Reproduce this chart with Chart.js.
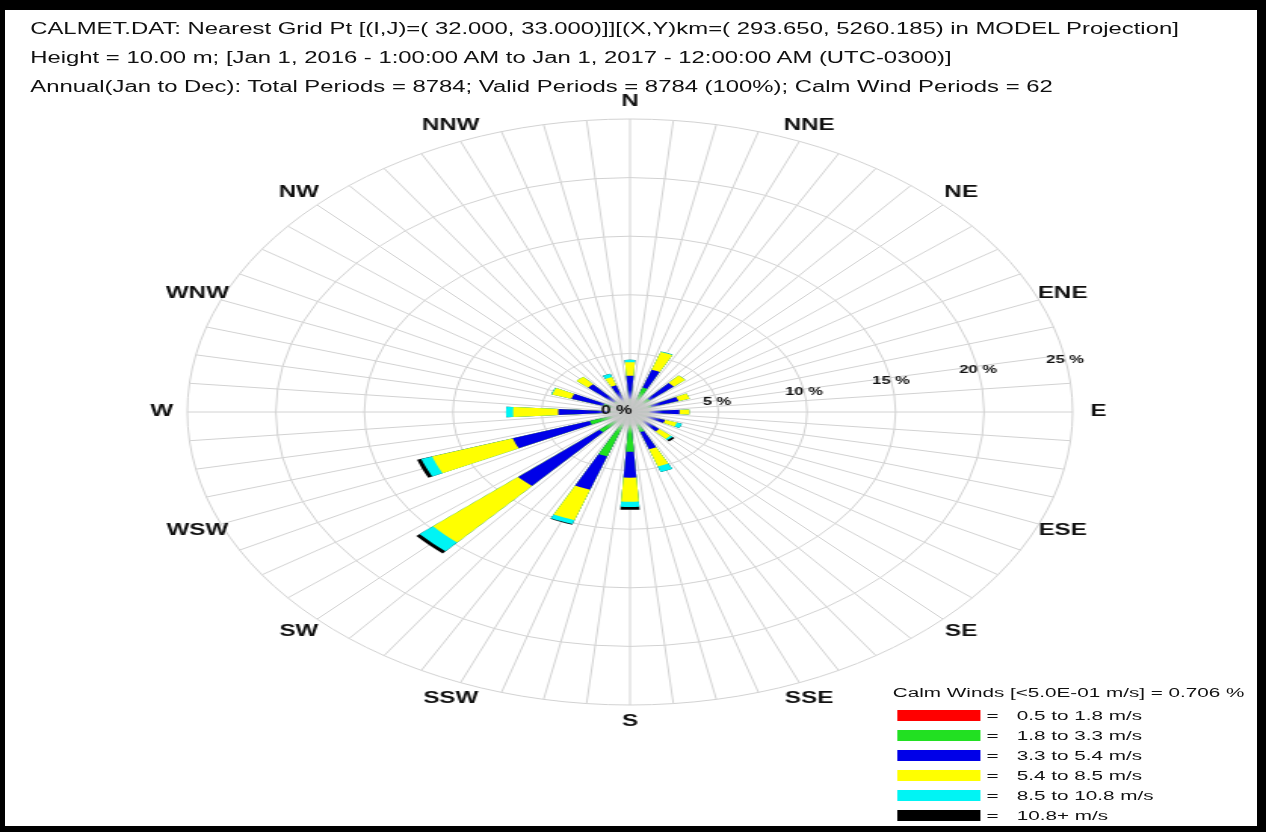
<!DOCTYPE html>
<html>
<head>
<meta charset="utf-8">
<script src="https://cdn.jsdelivr.net/npm/chart.js@4"></script>
<style>
  html, body { margin: 0; padding: 0; background: #fff; }
  body { width: 1266px; height: 832px; overflow: hidden; position: relative; font-family: "Liberation Sans", Arial, sans-serif; color: #111; }
  #frame { position: absolute; left: 0; top: 0; width: 1266px; height: 832px; box-sizing: border-box;
           border-style: solid; border-color: #000; border-width: 10px 9px 6px 5px; z-index: 5; pointer-events: none; }
  /* the reference picture is stretched sideways, so the whole sheet is too */
  #sheet { position: absolute; left: 0; top: 0; width: 838px; height: 832px; transform: scaleX(1.5107); transform-origin: 0 0; }
  #rose { position: absolute; left: 0; top: 0; }
  .title { position: absolute; left: 20px; font-size: 15.8px; line-height: 20px; white-space: nowrap; }
  #calm { position: absolute; left: 591px; top: 685px; font-size: 13.7px; line-height: 16px; white-space: nowrap; }
  .row { position: absolute; left: 594px; height: 20px; font-size: 13.7px; line-height: 16px; white-space: nowrap; }
  .row .box { position: absolute; left: 0; top: 2px; width: 55px; height: 11px; }
  .row .eq { position: absolute; left: 59px; top: 0; }
  .row .txt { position: absolute; left: 79px; top: 0; }
</style>
</head>
<body>
<div id="sheet">
  <canvas id="rose" width="838" height="832"></canvas>
  <div class="title" style="top:19px">CALMET.DAT: Nearest Grid Pt [(I,J)=( 32.000, 33.000)]][(X,Y)km=( 293.650, 5260.185) in MODEL Projection]</div>
  <div class="title" style="top:48px">Height = 10.00 m; [Jan 1, 2016 - 1:00:00 AM to Jan 1, 2017 - 12:00:00 AM (UTC-0300)]</div>
  <div class="title" style="top:77px">Annual(Jan to Dec): Total Periods = 8784; Valid Periods = 8784 (100%); Calm Wind Periods = 62</div>
  <div id="calm">Calm Winds [&lt;5.0E-01 m/s] = 0.706 %</div>
  <div id="legend"></div>
</div>
<div id="frame"></div>

<script>
const directions = ["N", "NNE", "NE", "ENE", "E", "ESE", "SE", "SSE",
                    "S", "SSW", "SW", "WSW", "W", "WNW", "NW", "NNW"];

// frequency (%) of each speed class per direction, N clockwise
const red    = [0.1, 0.1, 0.1, 0.1, 0.1, 0.1, 0.1, 0.1, 0.1, 0.1, 0.1, 0.1, 0.1, 0.1, 0.1, 0.1];
const green  = [1.0, 2.1, 1.4, 1.2, 1.0, 0.9, 0.9, 1.7, 3.3, 3.9, 2.2, 2.3, 1.2, 1.5, 1.1, 0.8];
const blue   = [2.0, 1.6, 1.8, 1.6, 1.7, 1.1, 1.2, 1.55, 2.2, 3.0, 6.1, 4.6, 2.75, 1.9, 1.95, 1.5];
const yellow = [1.15, 1.6, 0.85, 0.65, 0.55, 0.7, 0.85, 1.55, 2.05, 2.75, 6.4, 4.8, 2.55, 1.15, 0.85, 0.75];
const cyan   = [0.2, 0.05, 0, 0, 0, 0.3, 0.15, 0.5, 0.45, 0.35, 1.0, 0.65, 0.4, 0.05, 0, 0.3];
const black  = [0, 0, 0, 0, 0, 0, 0.15, 0, 0.25, 0.05, 0.25, 0.25, 0, 0, 0, 0];

const classLabels = ["0.5 to 1.8 m/s", "1.8 to 3.3 m/s", "3.3 to 5.4 m/s",
                     "5.4 to 8.5 m/s", "8.5 to 10.8 m/s", "10.8+ m/s"];
const classColors = ["#ff0000", "#22e022", "#0000e8", "#ffff00", "#00f4f4", "#000000"];
const tickValues = [5, 10, 15, 20, 25];

const gridColor = "#d2d2d2";
const slotsPerDir = 3;   // each bar takes the middle slot of three
const spokeCount = 64;

// legend rows
const legendEl = document.getElementById("legend");
classLabels.forEach((lab, i) => {
  const row = document.createElement("div");
  row.className = "row";
  row.style.top = (708 + i * 20) + "px";
  row.innerHTML = '<span class="box" style="background:' + classColors[i] + '"></span>' +
                  '<span class="eq">=</span><span class="txt">' + lab + '</span>';
  legendEl.appendChild(row);
});

// polar area slots and cumulative (stacked) values
const slotLabels = [];
directions.forEach((d) => { slotLabels.push("", d, ""); });

const classes = [red, green, blue, yellow, cyan, black];
const datasets = classes.map((cls, k) => {
  const data = [];
  directions.forEach((d, i) => {
    let cum = 0;
    for (let j = 0; j <= k; j++) cum += classes[j][i];
    data.push(0, cum, 0);
  });
  return {
    label: classLabels[k],
    data: data,
    backgroundColor: classColors[k],
    borderWidth: 0,
  };
});

const roseDecor = {
  id: "roseDecor",
  beforeDatasetsDraw(chart) {
    const r = chart.scales.r;
    const ctx = chart.ctx;
    const R = r.drawingArea;
    ctx.save();
    ctx.strokeStyle = gridColor;
    ctx.lineWidth = 1;
    for (let k = 0; k < spokeCount; k++) {
      const a = (k * 2 * Math.PI) / spokeCount;
      ctx.beginPath();
      ctx.moveTo(r.xCenter, r.yCenter);
      ctx.lineTo(r.xCenter + R * Math.sin(a), r.yCenter - R * Math.cos(a));
      ctx.stroke();
    }
    ctx.restore();
  },
  afterDatasetsDraw(chart) {
    const r = chart.scales.r;
    const ctx = chart.ctx;
    const cx = r.xCenter, cy = r.yCenter;
    ctx.save();

    // grey hub where the spokes meet
    const g = ctx.createRadialGradient(cx, cy, 0, cx, cy, 22);
    g.addColorStop(0, "rgba(196,196,196,1)");
    g.addColorStop(0.55, "rgba(200,200,200,0.95)");
    g.addColorStop(1, "rgba(210,210,210,0)");
    ctx.fillStyle = g;
    ctx.beginPath();
    ctx.arc(cx, cy, 22, 0, 2 * Math.PI);
    ctx.fill();

    ctx.fillStyle = "#111";
    ctx.textAlign = "center";
    ctx.textBaseline = "middle";
    ctx.font = "bold 12px 'Liberation Sans'";
    ctx.fillText("0 %", cx - 9, cy - 1);

    // ring labels along a line just above E
    const ta = (79.5 * Math.PI) / 180;
    ctx.font = "bold 11px 'Liberation Sans'";
    tickValues.forEach((v) => {
      const d = r.getDistanceFromCenterForValue(v);
      ctx.fillText(v + " %", cx + d * Math.sin(ta), cy - d * Math.cos(ta) + 1);
    });

    // compass labels
    ctx.font = "bold 16px 'Liberation Sans'";
    const dl = r.getDistanceFromCenterForValue(26.45);
    directions.forEach((d, i) => {
      const a = (i * 22.5 * Math.PI) / 180;
      ctx.fillText(d, cx + dl * Math.sin(a), cy - dl * Math.cos(a));
    });
    ctx.restore();
  },
};

Chart.defaults.font.family = "'Liberation Sans', Arial, sans-serif";

new Chart(document.getElementById("rose"), {
  type: "polarArea",
  data: { labels: slotLabels, datasets: datasets },
  options: {
    responsive: false,
    animation: false,
    layout: { padding: { left: 124, right: 128, top: 119, bottom: 127 } },
    scales: {
      r: {
        min: 0,
        max: 25,
        startAngle: -11.25,
        ticks: { display: false, stepSize: 5 },
        grid: { circular: true, color: gridColor, lineWidth: 1 },
        angleLines: { display: false },
        pointLabels: { display: false },
      },
    },
    plugins: {
      legend: { display: false },
      tooltip: { enabled: false },
    },
  },
  plugins: [roseDecor],
});
</script>
</body>
</html>
